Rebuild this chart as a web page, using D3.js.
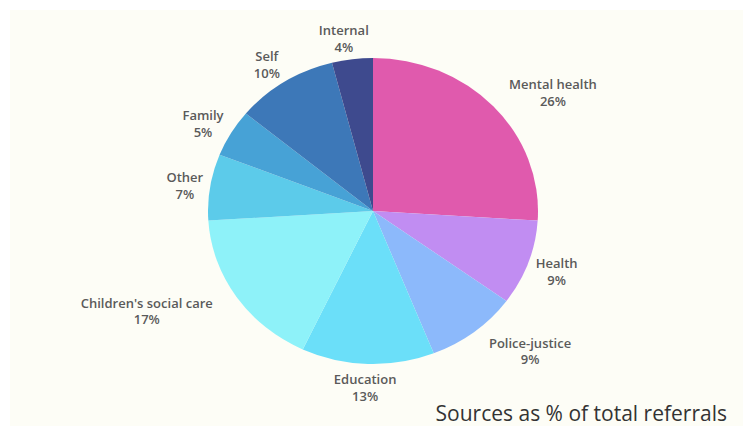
<!DOCTYPE html><html>
    <head>
        <meta charset="utf-8">
        <script src="https://cdnjs.cloudflare.com/ajax/libs/d3/7.8.5/d3.min.js"></script>
        <style>
          body { margin: 0; background: #ffffff; }
          text { font-family: "Open Sans", sans-serif; }
        </style>
    </head>
    <body>
        <svg id="chart" width="743" height="426"></svg>
        <script>
            var categories = ["Mental health", "Health", "Police-justice", "Education",
                              "Children's social care", "Other", "Family", "Self", "Internal"];
            var values = [26, 9, 9, 13, 17, 7, 5, 10, 4];
            var colors = ["#e05aad", "#c18df2", "#8cb9fb", "#6bdff9", "#8ef2f9",
                          "#5ccbea", "#47a2d6", "#3d78b8", "#3e4a8e"];
            var title = "Sources as % of total referrals";

            var svg = d3.select("#chart");
            svg.append("rect").attr("x", 10).attr("y", 10).attr("width", 733).attr("height", 416)
               .attr("fill", "#fdfdf6");

            var cx = 373, cy = 211, rx = 165, ry = 153;
            var squash = ry / rx;

            var pie = d3.pie().sort(null).value(function(d) { return d; });
            var arcs = pie(values);
            var arc = d3.arc().innerRadius(0).outerRadius(rx);

            var g = svg.append("g").attr("transform", "translate(" + cx + "," + cy + ") scale(1," + squash + ")");
            g.selectAll("path").data(arcs).enter().append("path")
                .attr("d", arc)
                .attr("fill", function(d, i) { return colors[i]; });

            // labels: just outside the rim, pushed sideways by about half their width
            var labelRx = 165, labelRy = 180;
            var labels = svg.append("g");
            arcs.forEach(function(d, i) {
                var a = (d.startAngle + d.endAngle) / 2;
                var s = Math.sin(a), c = Math.cos(a);
                var t = labels.append("text")
                    .attr("text-anchor", "middle")
                    .attr("font-size", 13)
                    .attr("font-weight", 600)
                    .attr("fill", "#5a5a5a");
                t.append("tspan").attr("x", 0).attr("dy", "-0.15em").text(categories[i]);
                t.append("tspan").attr("x", 0).attr("dy", "1.3em").text(values[i] + "%");
                var w = t.node().getBBox().width;
                var push = Math.max(-1, Math.min(1, s * 2)) * w * 0.68;
                var x = cx + labelRx * s + push;
                var y = cy - labelRy * c * squash * 1.05;
                t.attr("transform", "translate(" + x + "," + y + ")");
            });

            svg.append("text")
                .attr("x", 727).attr("y", 421)
                .attr("text-anchor", "end")
                .attr("font-size", 21)
                .attr("fill", "#333333")
                .text(title);
        </script>
    </body>
</html>
